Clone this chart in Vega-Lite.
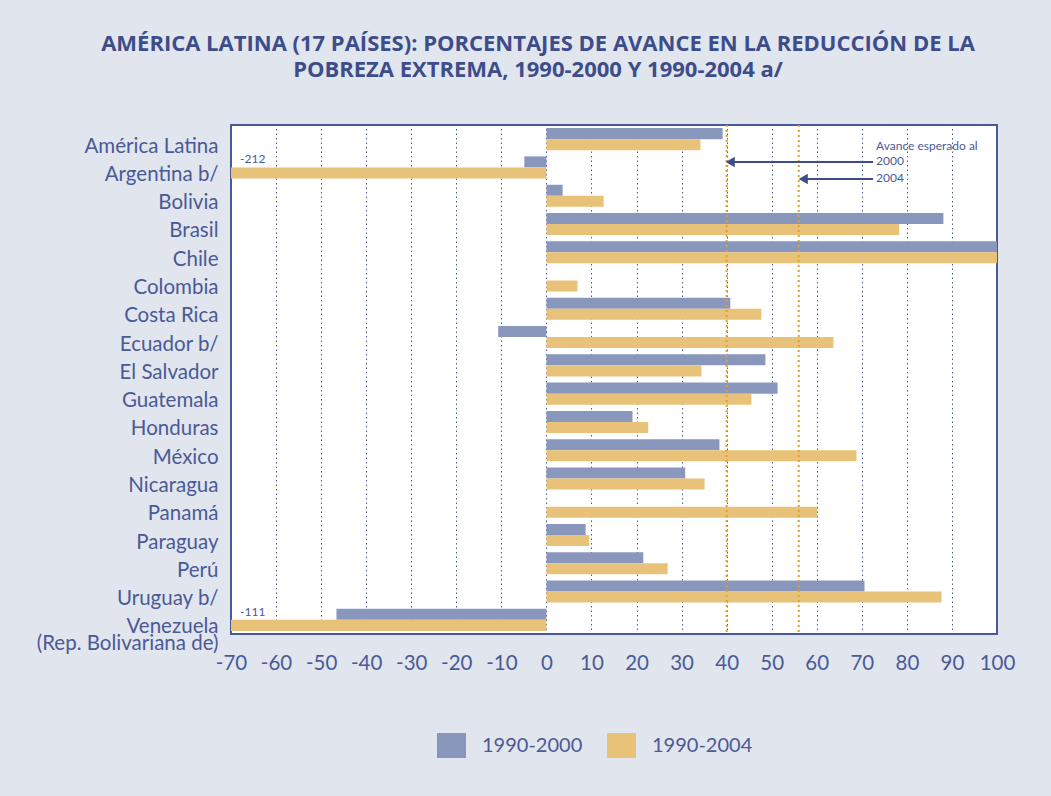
{
  "$schema": "https://vega.github.io/schema/vega-lite/v6.json",
  "width": 766,
  "height": 509,
  "autosize": {"type": "none"},
  "padding": {"left": 231, "top": 125, "right": 54, "bottom": 162},
  "background": "#e1e5ee",
  "title": {
    "text": ["AMÉRICA LATINA (17 PAÍSES): PORCENTAJES DE AVANCE EN LA REDUCCIÓN   DE LA", "POBREZA EXTREMA, 1990-2000 Y 1990-2004 a/"],
    "anchor": "middle",
    "dx": -76,
    "offset": 42,
    "font": "Open Sans",
    "fontSize": 22,
    "fontWeight": "bold",
    "letterSpacing": 2,
    "color": "#3d4d8a",
    "lineHeight": 26
  },
  "config": {
    "font": "Lato",
    "view": {"stroke": "#4a5a96", "strokeWidth": 2, "fill": "white"},
    "axis": {"labelColor": "#4a5a96", "labelFont": "Lato", "labelFontSize": 20.5, "domain": false, "ticks": false, "title": null}
  },
  "datasets": {
    "bars": [
      {"country": "América Latina", "period": "1990-2000", "value": 39.1},
      {"country": "América Latina", "period": "1990-2004", "value": 34.2},
      {"country": "Argentina b/", "period": "1990-2000", "value": -4.9},
      {"country": "Argentina b/", "period": "1990-2004", "value": -212},
      {"country": "Bolivia", "period": "1990-2000", "value": 3.6},
      {"country": "Bolivia", "period": "1990-2004", "value": 12.7},
      {"country": "Brasil", "period": "1990-2000", "value": 88.1},
      {"country": "Brasil", "period": "1990-2004", "value": 78.3},
      {"country": "Chile", "period": "1990-2000", "value": 100},
      {"country": "Chile", "period": "1990-2004", "value": 100},
      {"country": "Colombia", "period": "1990-2000", "value": 0},
      {"country": "Colombia", "period": "1990-2004", "value": 6.9},
      {"country": "Costa Rica", "period": "1990-2000", "value": 40.8},
      {"country": "Costa Rica", "period": "1990-2004", "value": 47.7},
      {"country": "Ecuador b/", "period": "1990-2000", "value": -10.7},
      {"country": "Ecuador b/", "period": "1990-2004", "value": 63.7},
      {"country": "El Salvador", "period": "1990-2000", "value": 48.6},
      {"country": "El Salvador", "period": "1990-2004", "value": 34.4},
      {"country": "Guatemala", "period": "1990-2000", "value": 51.3},
      {"country": "Guatemala", "period": "1990-2004", "value": 45.5},
      {"country": "Honduras", "period": "1990-2000", "value": 19.1},
      {"country": "Honduras", "period": "1990-2004", "value": 22.6},
      {"country": "México", "period": "1990-2000", "value": 38.4},
      {"country": "México", "period": "1990-2004", "value": 68.8},
      {"country": "Nicaragua", "period": "1990-2000", "value": 30.8},
      {"country": "Nicaragua", "period": "1990-2004", "value": 35.1},
      {"country": "Panamá", "period": "1990-2000", "value": 0},
      {"country": "Panamá", "period": "1990-2004", "value": 60.1},
      {"country": "Paraguay", "period": "1990-2000", "value": 8.7},
      {"country": "Paraguay", "period": "1990-2004", "value": 9.5},
      {"country": "Perú", "period": "1990-2000", "value": 21.5},
      {"country": "Perú", "period": "1990-2004", "value": 26.9},
      {"country": "Uruguay b/", "period": "1990-2000", "value": 70.6},
      {"country": "Uruguay b/", "period": "1990-2004", "value": 87.7},
      {"country": "Venezuela (Rep. Bolivariana de)", "period": "1990-2000", "value": -46.6},
      {"country": "Venezuela (Rep. Bolivariana de)", "period": "1990-2004", "value": -111}
    ],
    "offscale": [
      {"country": "Argentina b/", "label": "-212"},
      {"country": "Venezuela (Rep. Bolivariana de)", "label": "-111"}
    ],
    "expected": [
      {"year": "2000", "value": 40, "head": 40.8, "start": 72.5},
      {"year": "2004", "value": 56, "head": 57.0, "start": 72.5}
    ]
  },
  "layer": [
    {
      "data": {"name": "bars"},
      "mark": {"type": "bar", "clip": true},
      "encoding": {
        "y": {
          "field": "country", "type": "nominal",
          "scale": {"domain": ["América Latina", "Argentina b/", "Bolivia", "Brasil", "Chile", "Colombia", "Costa Rica", "Ecuador b/", "El Salvador", "Guatemala", "Honduras", "México", "Nicaragua", "Panamá", "Paraguay", "Perú", "Uruguay b/", "Venezuela (Rep. Bolivariana de)"], "paddingInner": 0.22, "paddingOuter": 0.11},
          "axis": {
            "labelPadding": 13,
            "labelOffset": 7.5,
            "labelLimit": 300,
            "labelExpr": "datum.label == 'Venezuela (Rep. Bolivariana de)' ? ['Venezuela', '(Rep. Bolivariana de)'] : datum.label",
            "labelLineHeight": 17
          }
        },
        "yOffset": {"field": "period", "type": "nominal", "scale": {"paddingInner": 0, "paddingOuter": 0}},
        "x": {
          "field": "value", "type": "quantitative",
          "scale": {"domain": [-70, 100], "nice": false, "zero": false},
          "axis": {"values": [-70, -60, -50, -40, -30, -20, -10, 0, 10, 20, 30, 40, 50, 60, 70, 80, 90, 100], "labelExpr": "'' + datum.value", "labelOverlap": false, "labelFlush": false, "grid": true, "gridColor": "#4a5a96", "gridDash": [1.5, 3], "gridWidth": 1, "labelPadding": 19}
        },
        "color": {
          "field": "period", "type": "nominal",
          "scale": {"domain": ["1990-2000", "1990-2004"], "range": ["#8a97bc", "#e9c27a"]},
          "legend": {
            "title": null, "orient": "none", "legendX": 207, "legendY": 607, "direction": "horizontal",
            "symbolType": "M-1.08,-0.93H1.08V0.93H-1.08Z", "symbolSize": 720, "symbolStrokeWidth": 0,
            "labelFontSize": 20, "labelFont": "Lato", "labelColor": "#4a5a96", "labelOffset": 17, "columnPadding": 24
          }
        }
      }
    },
    {
      "data": {"name": "expected"},
      "mark": {"type": "rule", "color": "#e0a030", "strokeWidth": 2, "strokeDash": [2, 3]},
      "encoding": {"x": {"field": "value", "type": "quantitative"}}
    },
    {
      "data": {"name": "offscale"},
      "mark": {"type": "text", "align": "left", "dx": 9, "dy": -8, "fontSize": 12, "color": "#4a5a96"},
      "encoding": {
        "y": {"field": "country", "type": "nominal", "scale": {"domain": ["América Latina", "Argentina b/", "Bolivia", "Brasil", "Chile", "Colombia", "Costa Rica", "Ecuador b/", "El Salvador", "Guatemala", "Honduras", "México", "Nicaragua", "Panamá", "Paraguay", "Perú", "Uruguay b/", "Venezuela (Rep. Bolivariana de)"]}},
        "x": {"datum": -70, "type": "quantitative"},
        "text": {"field": "label", "type": "nominal"}
      }
    },
    {
      "data": {"name": "expected"},
      "transform": [{"filter": "datum.year == '2000'"}],
      "layer": [
        {
          "mark": {"type": "rule", "color": "#3d4d8a", "strokeWidth": 2, "yOffset": -5.5},
          "encoding": {
            "y": {"datum": "Argentina b/", "type": "nominal"},
            "x": {"field": "head", "type": "quantitative"},
            "x2": {"field": "start"}
          }
        },
        {
          "mark": {"type": "point", "shape": "triangle-left", "filled": true, "opacity": 1, "size": 110, "color": "#3d4d8a", "yOffset": -5.5},
          "encoding": {
            "y": {"datum": "Argentina b/", "type": "nominal"},
            "x": {"field": "head", "type": "quantitative"}
          }
        },
        {
          "mark": {"type": "text", "align": "left", "fontSize": 12, "color": "#4a5a96", "dx": 3, "dy": -6},
          "encoding": {
            "y": {"datum": "Argentina b/", "type": "nominal"},
            "x": {"field": "start", "type": "quantitative"},
            "text": {"field": "year", "type": "nominal"}
          }
        },
        {
          "mark": {"type": "text", "align": "left", "fontSize": 12, "color": "#4a5a96", "dx": 3, "dy": -21.5, "text": "Avance esperado al"},
          "encoding": {
            "y": {"datum": "Argentina b/", "type": "nominal"},
            "x": {"field": "start", "type": "quantitative"}
          }
        }
      ]
    },
    {
      "data": {"name": "expected"},
      "transform": [{"filter": "datum.year == '2004'"}],
      "layer": [
        {
          "mark": {"type": "rule", "color": "#3d4d8a", "strokeWidth": 2, "yOffset": 11.5},
          "encoding": {
            "y": {"datum": "Argentina b/", "type": "nominal"},
            "x": {"field": "head", "type": "quantitative"},
            "x2": {"field": "start"}
          }
        },
        {
          "mark": {"type": "point", "shape": "triangle-left", "filled": true, "opacity": 1, "size": 110, "color": "#3d4d8a", "yOffset": 11.5},
          "encoding": {
            "y": {"datum": "Argentina b/", "type": "nominal"},
            "x": {"field": "head", "type": "quantitative"}
          }
        },
        {
          "mark": {"type": "text", "align": "left", "fontSize": 12, "color": "#4a5a96", "dx": 3, "dy": 10.5},
          "encoding": {
            "y": {"datum": "Argentina b/", "type": "nominal"},
            "x": {"field": "start", "type": "quantitative"},
            "text": {"field": "year", "type": "nominal"}
          }
        }
      ]
    }
  ]
}
